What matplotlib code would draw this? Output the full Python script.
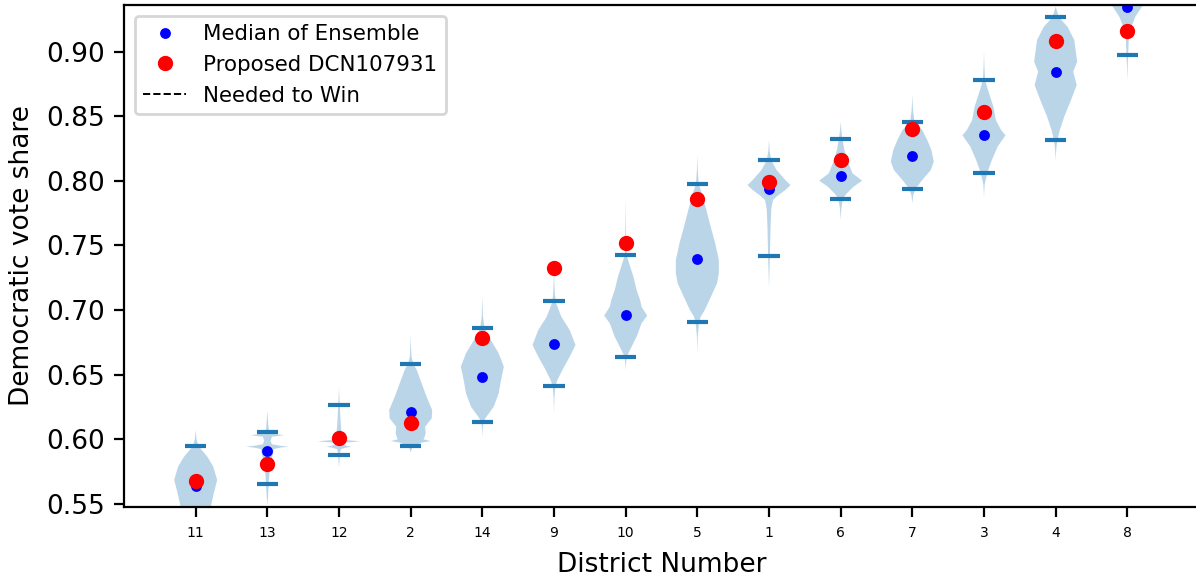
import numpy as np
import matplotlib
matplotlib.use("Agg")
import matplotlib.pyplot as plt

# district order on the x axis
districts = ['11', '13', '12', '2', '14', '9', '10', '5', '1', '6', '7', '3', '4', '8']

median_ens = [0.564, 0.591, 0.600, 0.621, 0.648, 0.6735, 0.6964, 0.7397, 0.7937,
              0.804, 0.8189, 0.8352, 0.8844, 0.9342]
proposed = [0.568, 0.5812, 0.6013, 0.6129, 0.6786, 0.7325, 0.7521, 0.7857, 0.7993,
            0.8158, 0.8401, 0.8532, 0.9084, 0.9159]
cap_low = [0.540, 0.5657, 0.5876, 0.5946, 0.6137, 0.6410, 0.6639, 0.6905, 0.7421,
           0.7862, 0.7939, 0.8063, 0.8316, 0.8974]
cap_high = [0.5946, 0.6059, 0.6268, 0.6585, 0.6861, 0.7068, 0.7426, 0.7978, 0.8159,
            0.8326, 0.8455, 0.8777, 0.9265, 0.960]
needed = [0.5] * 14

# violin outlines: vote share / relative half width
prof_vals = [
    [0.528, 0.535, 0.5485, 0.5583, 0.5686, 0.5789, 0.5866, 0.5946, 0.600, 0.607],
    [0.549, 0.556, 0.566, 0.576, 0.584, 0.589, 0.5925, 0.5937, 0.5943, 0.5950, 0.5962,
     0.599, 0.6020, 0.6027, 0.6032, 0.6038, 0.6048, 0.608, 0.614, 0.622],
    [0.578, 0.585, 0.590, 0.5925, 0.5937, 0.5943, 0.5950, 0.5962, 0.5975, 0.5985, 0.5995,
     0.602, 0.608, 0.615, 0.625, 0.632, 0.640],
    [0.590, 0.5940, 0.5975, 0.5987, 0.6000, 0.6025, 0.6047, 0.6098, 0.6163, 0.6227,
     0.633, 0.6434, 0.6537, 0.6585, 0.664, 0.672, 0.682],
    [0.602, 0.609, 0.6137, 0.6175, 0.6253, 0.6356, 0.6459, 0.6562, 0.6666, 0.6794,
     0.6861, 0.695, 0.710],
    [0.620, 0.632, 0.6410, 0.6459, 0.6537, 0.6639, 0.673, 0.6846, 0.6949, 0.7052,
     0.712, 0.722, 0.735],
    [0.6537, 0.659, 0.6639, 0.6691, 0.6794, 0.6898, 0.6957, 0.7026, 0.7078, 0.7155,
     0.7258, 0.7362, 0.7426, 0.755, 0.770, 0.7865],
    [0.6666, 0.680, 0.6905, 0.6950, 0.7001, 0.7103, 0.7207, 0.7285, 0.7387, 0.7517,
     0.7645, 0.7774, 0.7903, 0.7978, 0.808, 0.820],
    [0.7181, 0.730, 0.7421, 0.7645, 0.7774, 0.7800, 0.7852, 0.788, 0.7929, 0.7967,
     0.8006, 0.8083, 0.8159, 0.823, 0.8316],
    [0.7697, 0.778, 0.7862, 0.7903, 0.7955, 0.8001, 0.8058, 0.8135, 0.8238, 0.8326,
     0.839, 0.8457],
    [0.7826, 0.789, 0.7939, 0.8006, 0.8083, 0.8148, 0.8238, 0.8316, 0.8393, 0.8455,
     0.855, 0.8664],
    [0.7877, 0.797, 0.8063, 0.8161, 0.8264, 0.8352, 0.8393, 0.847, 0.8573, 0.8677,
     0.8777, 0.888, 0.8999],
    [0.8161, 0.825, 0.8316, 0.8393, 0.8496, 0.8625, 0.8741, 0.8844, 0.8921, 0.9089,
     0.9192, 0.9265, 0.9347],
    [0.878, 0.890, 0.8974, 0.9115, 0.9192, 0.9269, 0.9347, 0.945, 0.955, 0.965, 0.975],
]
prof_w = [
    [0, 0.2, 0.71, 0.84, 1.0, 0.82, 0.54, 0.14, 0.04, 0],
    [0, 0.03, 0.06, 0.1, 0.18, 0.25, 0.28, 0.6, 0.95, 0.6, 0.2,
     0.14, 0.2, 0.5, 0.74, 0.5, 0.15, 0.06, 0.03, 0],
    [0, 0.03, 0.05, 0.1, 0.35, 0.6, 0.35, 0.15, 0.3, 1.0, 0.3,
     0.15, 0.1, 0.07, 0.04, 0.02, 0],
    [0, 0.08, 0.5, 0.93, 0.6, 0.66, 0.7, 0.67, 0.98, 1.0,
     0.74, 0.51, 0.28, 0.12, 0.04, 0.015, 0],
    [0, 0.02, 0.05, 0.19, 0.53, 0.76, 0.87, 1.0, 0.76, 0.3, 0.1, 0.03, 0],
    [0, 0.02, 0.06, 0.16, 0.39, 0.73, 1.0, 0.73, 0.34, 0.1, 0.04, 0.015, 0],
    [0, 0.02, 0.05, 0.2, 0.51, 0.74, 1.0, 0.74, 0.67, 0.51,
     0.36, 0.16, 0.04, 0.02, 0.01, 0],
    [0, 0.02, 0.08, 0.15, 0.33, 0.6, 0.87, 0.95, 0.95, 0.79,
     0.59, 0.4, 0.2, 0.06, 0.02, 0],
    [0, 0.02, 0.04, 0.07, 0.1, 0.12, 0.18, 0.35, 0.73, 0.96,
     0.73, 0.34, 0.1, 0.03, 0],
    [0, 0.03, 0.1, 0.28, 0.59, 0.98, 0.54, 0.36, 0.17, 0.08, 0.03, 0],
    [0, 0.04, 0.15, 0.45, 0.84, 0.98, 0.87, 0.68, 0.45, 0.1, 0.03, 0],
    [0, 0.03, 0.15, 0.36, 0.62, 0.98, 0.78, 0.54, 0.43, 0.23, 0.05, 0.02, 0],
    [0, 0.03, 0.08, 0.19, 0.39, 0.7, 0.96, 0.8, 0.98, 0.85, 0.54, 0.15, 0],
    [0, 0.02, 0.04, 0.07, 0.19, 0.37, 0.68, 1.0, 0.7, 0.3, 0],
]

positions = np.arange(1, len(districts) + 1)

fig = plt.figure(figsize=(5.98, 2.91), dpi=200)
ax = fig.add_axes([0.1037, 0.1289, 0.8988, 0.8625])

stats = []
for i in range(len(districts)):
    stats.append({'coords': np.array(prof_vals[i]), 'vals': np.array(prof_w[i]),
                  'mean': median_ens[i], 'median': median_ens[i],
                  'min': cap_low[i], 'max': cap_high[i]})

parts = ax.violin(stats, positions=positions, widths=0.6, showextrema=True)
for b in parts['bodies']:
    b.set_facecolor('C0')
    b.set_edgecolor('none')
    b.set_alpha(0.3)
parts['cbars'].set_visible(False)
parts['cmins'].set_color('C0')
parts['cmaxes'].set_color('C0')

ax.plot(positions, median_ens, 'o', color='blue', ms=2.9, label='Median of Ensemble')
ax.plot(positions, proposed, 'o', color='red', ms=4.5, label='Proposed DCN107931')
ax.plot(positions, needed, '--', color='black', lw=0.7, label='Needed to Win')

ax.set_xlim(0, 15)
ax.set_ylim(0.5477, 0.936)
ax.set_xticks(positions)
ax.set_xticklabels(districts, fontsize=5)
ax.set_yticks([0.55, 0.60, 0.65, 0.70, 0.75, 0.80, 0.85, 0.90])
ax.set_yticklabels(['0.55', '0.60', '0.65', '0.70', '0.75', '0.80', '0.85', '0.90'], fontsize=9.5)
ax.set_xlabel('District Number', fontsize=9.5)
ax.set_ylabel('Democratic vote share', fontsize=9.5)
ax.legend(loc='upper left', fontsize=7.7)

fig.savefig('out.png', dpi=200)
